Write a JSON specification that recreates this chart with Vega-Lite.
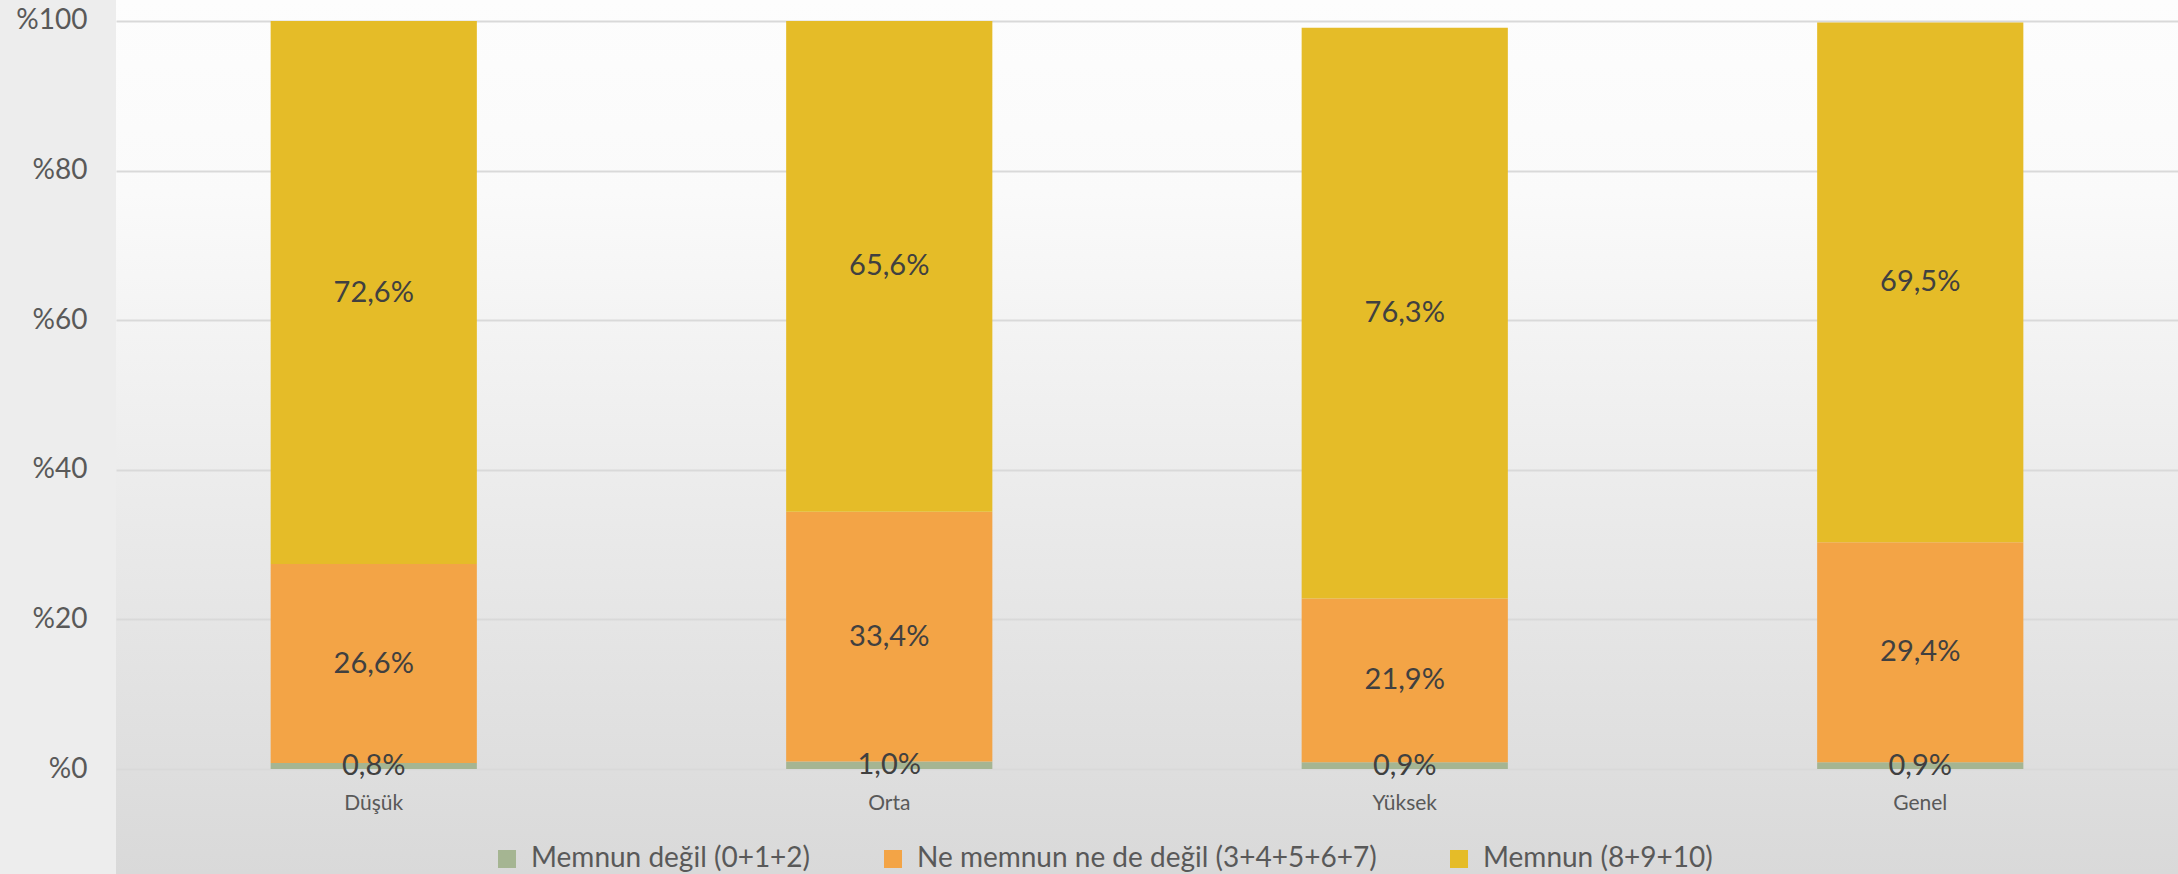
{
  "$schema": "https://vega.github.io/schema/vega-lite/v6.json",
  "width": 2062,
  "height": 874,
  "autosize": "none",
  "padding": {"left": 116, "top": 0, "right": 0, "bottom": 0},
  "background": "#ededed",
  "config": {
    "view": {
      "stroke": null,
      "fill": {
        "gradient": "linear",
        "x1": 0, "y1": 0, "x2": 0, "y2": 1,
        "stops": [
          {"offset": 0, "color": "#fdfdfd"},
          {"offset": 0.22, "color": "#fafafa"},
          {"offset": 1, "color": "#d9d9d9"}
        ]
      }
    },
    "font": "Lato"
  },
  "data": {
    "values": [
      {"grup": "Düşük", "kategori": "Memnun değil (0+1+2)", "sira": 1, "deger": 0.8},
      {"grup": "Düşük", "kategori": "Ne memnun ne de değil (3+4+5+6+7)", "sira": 2, "deger": 26.6},
      {"grup": "Düşük", "kategori": "Memnun (8+9+10)", "sira": 3, "deger": 72.6},
      {"grup": "Orta", "kategori": "Memnun değil (0+1+2)", "sira": 1, "deger": 1.0},
      {"grup": "Orta", "kategori": "Ne memnun ne de değil (3+4+5+6+7)", "sira": 2, "deger": 33.4},
      {"grup": "Orta", "kategori": "Memnun (8+9+10)", "sira": 3, "deger": 65.6},
      {"grup": "Yüksek", "kategori": "Memnun değil (0+1+2)", "sira": 1, "deger": 0.9},
      {"grup": "Yüksek", "kategori": "Ne memnun ne de değil (3+4+5+6+7)", "sira": 2, "deger": 21.9},
      {"grup": "Yüksek", "kategori": "Memnun (8+9+10)", "sira": 3, "deger": 76.3},
      {"grup": "Genel", "kategori": "Memnun değil (0+1+2)", "sira": 1, "deger": 0.9},
      {"grup": "Genel", "kategori": "Ne memnun ne de değil (3+4+5+6+7)", "sira": 2, "deger": 29.4},
      {"grup": "Genel", "kategori": "Memnun (8+9+10)", "sira": 3, "deger": 69.5}
    ]
  },
  "layer": [
    {
      "mark": {"type": "bar"},
      "encoding": {
        "x": {
          "field": "grup", "type": "nominal",
          "sort": ["Düşük", "Orta", "Yüksek", "Genel"],
          "scale": {"paddingInner": 0.6, "paddingOuter": 0.3},
          "axis": {
            "title": null, "orient": "bottom", "offset": -105,
            "domain": false, "ticks": false, "labelAngle": 0,
            "labelFontSize": 21, "labelColor": "#595959", "labelPadding": 23
          }
        },
        "y": {
          "field": "deger", "type": "quantitative", "stack": "zero",
          "scale": {"domain": [-14.037, 102.807], "nice": false, "zero": false},
          "axis": {
            "title": null, "values": [0, 20, 40, 60, 80, 100],
            "labelExpr": "'%' + datum.value",
            "domain": false, "ticks": false,
            "grid": true, "gridColor": "#d9d9d9", "gridWidth": 2,
            "labelFontSize": 28, "labelColor": "#595959", "labelPadding": 29
          }
        },
        "color": {
          "field": "kategori", "type": "nominal",
          "scale": {
            "domain": ["Memnun değil (0+1+2)", "Ne memnun ne de değil (3+4+5+6+7)", "Memnun (8+9+10)"],
            "range": ["#a5b592", "#f3a446", "#e5bc28"]
          },
          "legend": {
            "title": null, "orient": "none", "direction": "horizontal",
            "legendX": 377, "legendY": 845,
            "symbolType": "square", "symbolSize": 324, "symbolStrokeWidth": 0, "symbolOpacity": 1,
            "labelFontSize": 28, "labelColor": "#595959", "labelOffset": 10,
            "columnPadding": 68, "padding": 0, "labelLimit": 600
          }
        },
        "order": {"field": "sira", "type": "quantitative", "sort": "ascending"}
      }
    },
    {
      "mark": {
        "type": "text", "fontSize": 29, "color": "#404040",
        "align": "center", "baseline": "middle",
        "text": {"expr": "replace(format(datum.deger, '.1f'), '.', ',') + '%'"}
      },
      "encoding": {
        "x": {"field": "grup", "type": "nominal", "sort": ["Düşük", "Orta", "Yüksek", "Genel"]},
        "y": {"field": "deger", "type": "quantitative", "stack": "zero", "bandPosition": 0.5},
        "order": {"field": "sira", "type": "quantitative", "sort": "ascending"}
      }
    }
  ]
}
